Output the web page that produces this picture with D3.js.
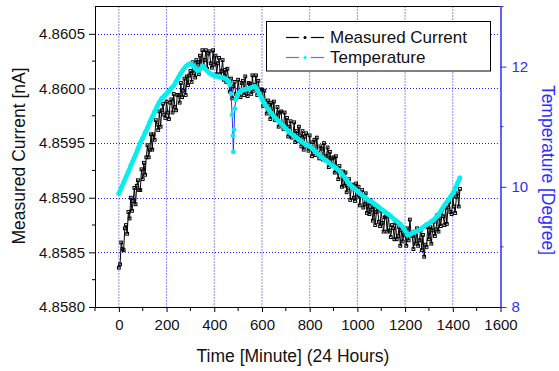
<!DOCTYPE html>
<html>
<head>
<meta charset="utf-8">
<script src="https://cdn.jsdelivr.net/npm/d3@7"></script>
<style>
  html, body { margin: 0; padding: 0; background: #fff; }
  svg { display: block; font-family: "Liberation Sans", Arial, sans-serif; }
</style>
</head>
<body>
<svg id="chart" width="559" height="371"></svg>
<script>
// ---------------- data ----------------
const currentTime = [0,5,10,15,20,25,30,35,40,45,50,55,60,65,70,75,80,85,90,95,
  100,105,110,115,120,125,130,135,140,145,150,155,160,165,170,175,180,185,190,195,
  200,205,210,215,220,225,230,235,240,245,250,255,260,265,270,275,280,285,290,295,
  300,305,310,315,320,325,330,335,340,345,350,355,360,365,370,375,380,385,390,395,
  400,405,410,415,420,425,430,435,440,445,450,455,460,465,470,475,480,485,490,495,
  500,505,510,515,520,525,530,535,540,545,550,555,560,565,570,575,580,585,590,595,
  600,605,610,615,620,625,630,635,640,645,650,655,660,665,670,675,680,685,690,695,
  700,705,710,715,720,725,730,735,740,745,750,755,760,765,770,775,780,785,790,795,
  800,805,810,815,820,825,830,835,840,845,850,855,860,865,870,875,880,885,890,895,
  900,905,910,915,920,925,930,935,940,945,950,955,960,965,970,975,980,985,990,995,
  1000,1005,1010,1015,1020,1025,1030,1035,1040,1045,1050,1055,1060,1065,1070,1075,1080,1085,1090,1095,
  1100,1105,1110,1115,1120,1125,1130,1135,1140,1145,1150,1155,1160,1165,1170,1175,1180,1185,1190,1195,
  1200,1205,1210,1215,1220,1225,1230,1235,1240,1245,1250,1255,1260,1265,1270,1275,1280,1285,1290,1295,
  1300,1305,1310,1315,1320,1325,1330,1335,1340,1345,1350,1355,1360,1365,1370,1375,1380,1385,1390,1395,
  1400,1405,1410,1415,1420,1425,1430];
const currentValues = [
  4.85836,4.85839,4.85859,4.85853,4.85852,4.85872,4.85875,4.85867,4.85887,4.85881,
  4.85900,4.85888,4.85897,4.85909,4.85894,4.85911,4.85916,4.85907,4.85907,4.85926,
  4.85917,4.85932,4.85921,4.85937,4.85948,4.85937,4.85944,4.85958,4.85944,4.85958,
  4.85953,4.85971,4.85967,4.85962,4.85979,4.85965,4.85980,4.85986,4.85976,4.85973,
  4.85988,4.85978,4.85972,4.85987,4.85990,4.85978,4.85995,4.85983,4.85980,4.85994,
  4.85994,4.85987,4.86005,4.85992,4.85998,4.86009,4.85994,4.86011,4.86003,4.86012,
  4.86016,4.86006,4.86024,4.86014,4.86010,4.86026,4.86024,4.86013,4.86030,4.86020,
  4.86035,4.86020,4.86026,4.86035,4.86018,4.86032,4.86034,4.86023,4.86019,4.86035,
  4.86022,4.86030,4.86013,4.86023,4.86028,4.86013,4.86016,4.86026,4.86008,4.86017,
  4.86006,4.86018,4.86008,4.85997,4.86009,4.85991,4.86002,4.86006,4.85995,4.85992,
  4.86008,4.85998,4.85992,4.86005,4.86007,4.85994,4.86011,4.85998,4.85993,4.86005,
  4.86004,4.85995,4.86012,4.85998,4.86003,4.86012,4.85994,4.86007,4.85995,4.85999,
  4.85999,4.85984,4.85998,4.85985,4.85977,4.85989,4.85985,4.85972,4.85987,4.85975,
  4.85988,4.85971,4.85975,4.85983,4.85965,4.85978,4.85979,4.85967,4.85963,4.85978,
  4.85965,4.85973,4.85956,4.85965,4.85970,4.85955,4.85958,4.85969,4.85951,4.85961,
  4.85952,4.85965,4.85957,4.85947,4.85961,4.85944,4.85956,4.85959,4.85947,4.85943,
  4.85957,4.85946,4.85938,4.85951,4.85953,4.85939,4.85955,4.85941,4.85936,4.85947,
  4.85945,4.85935,4.85950,4.85935,4.85938,4.85946,4.85928,4.85942,4.85931,4.85936,
  4.85937,4.85923,4.85938,4.85925,4.85917,4.85929,4.85924,4.85910,4.85924,4.85911,
  4.85923,4.85905,4.85909,4.85917,4.85898,4.85911,4.85912,4.85900,4.85897,4.85913,
  4.85901,4.85910,4.85893,4.85902,4.85907,4.85891,4.85894,4.85904,4.85886,4.85895,
  4.85885,4.85898,4.85889,4.85879,4.85892,4.85875,4.85887,4.85890,4.85878,4.85874,
  4.85888,4.85877,4.85869,4.85882,4.85883,4.85869,4.85884,4.85870,4.85864,4.85875,
  4.85872,4.85862,4.85877,4.85862,4.85865,4.85873,4.85856,4.85870,4.85860,4.85866,
  4.85868,4.85856,4.85872,4.85861,4.85880,4.85868,4.85865,4.85853,4.85869,4.85858,
  4.85872,4.85856,4.85861,4.85870,4.85852,4.85866,4.85846,4.85857,4.85855,4.85873,
  4.85862,4.85873,4.85858,4.85870,4.85878,4.85865,4.85871,4.85884,4.85869,4.85881,
  4.85874,4.85889,4.85883,4.85875,4.85891,4.85876,4.85891,4.85896,4.85887,4.85885,
  4.85901,4.85892,4.85886,4.85901,4.85904,4.85892,4.85908];

const tempTime = [0,10,20,30,40,50,60,70,80,90,100,110,120,130,140,150,160,170,180,190,
  200,210,220,230,240,250,260,270,280,290,300,310,320,330,340,350,360,370,380,390,
  400,410,420,430,440,450,460,465,470,475,478,480,483,486,490,500,510,520,530,540,550,560,570,580,590,
  600,610,620,630,640,650,660,670,680,690,700,710,720,730,740,750,760,770,780,790,
  800,810,820,830,840,850,860,870,880,890,900,910,920,930,940,950,960,970,980,990,
  1000,1010,1020,1030,1040,1050,1060,1070,1080,1090,1100,1110,1120,1130,1140,1150,1160,1170,1180,1190,
  1200,1210,1220,1230,1240,1250,1260,1270,1280,1290,1300,1310,1320,1330,1340,1350,1360,1370,1380,1390,
  1400,1410,1420,1430];
const tempValues = [9.89,9.98,10.07,10.16,10.25,10.35,10.44,10.53,10.63,10.73,
  10.81,10.90,10.98,11.08,11.16,11.25,11.33,11.41,11.47,11.51,
  11.55,11.59,11.64,11.68,11.75,11.82,11.89,11.95,12.00,12.03,
  12.05,12.02,11.97,11.93,11.95,12.01,11.97,11.93,11.89,11.87,
  11.85,11.84,11.83,11.82,11.81,11.79,11.76,11.70,11.55,11.20,10.85,10.58,10.95,11.30,11.45,
  11.55,11.59,11.61,11.62,11.63,11.64,11.66,11.67,11.62,11.54,
  11.46,11.39,11.33,11.27,11.22,11.17,11.13,11.09,11.05,11.01,
  10.97,10.93,10.89,10.86,10.83,10.80,10.77,10.74,10.71,10.69,
  10.67,10.64,10.60,10.57,10.53,10.49,10.46,10.43,10.40,10.37,
  10.34,10.31,10.28,10.24,10.19,10.14,10.08,10.03,9.99,9.96,
  9.93,9.89,9.86,9.83,9.80,9.77,9.75,9.72,9.69,9.66,
  9.63,9.60,9.57,9.54,9.51,9.47,9.44,9.41,9.38,9.33,
  9.27,9.20,9.21,9.23,9.25,9.26,9.28,9.31,9.34,9.37,
  9.39,9.42,9.45,9.49,9.54,9.60,9.66,9.72,9.77,9.83,
  9.89,9.97,10.06,10.15];

const xMajorTicks = [0,200,400,600,800,1000,1200,1400,1600];
const xMinorTicks = [-100,100,300,500,700,900,1100,1300,1500];
const xGridTicks = [0,200,400,600,800,1000,1200,1400];
const yLeftMajorTicks = [4.8580,4.8585,4.8590,4.8595,4.8600,4.8605];
const yLeftMinorTicks = [4.85825,4.85875,4.85925,4.85975,4.86025];
const yLeftGridTicks = [4.8585,4.8590,4.8595,4.8600,4.8605];
const yRightMajorTicks = [8,10,12];
const yRightMinorTicks = [9,11,13];
const legendLabels = ["Measured Current","Temperature"];
const xTitle = "Time [Minute] (24 Hours)";
const yLeftTitle = "Measured Current [nA]";
const yRightTitle = "Temperature [Degree]";

// ---------------- layout ----------------
const L = 95, R = 500.5, T = 6.5, B = 307;
const BLUE = "#2d2dff";
const CYAN = "#08eeee";
const svg = d3.select("#chart");

const x = d3.scaleLinear().domain([-100, 1600]).range([L, R]);
const yL = d3.scaleLinear().domain([4.8580, 4.86075]).range([B, T]);
const yR = d3.scaleLinear().domain([8, 13]).range([B, T]);

// grid
const grid = svg.append("g");
grid.selectAll("line.vg").data(xGridTicks).join("line")
  .attr("x1", d => x(d)).attr("x2", d => x(d)).attr("y1", T).attr("y2", B)
  .attr("stroke", "#1a1aff").attr("stroke-width", 1).attr("stroke-dasharray", "1,2");
grid.selectAll("line.hg").data(yLeftGridTicks).join("line")
  .attr("y1", d => Math.round(yL(d)) + 0.5).attr("y2", d => Math.round(yL(d)) + 0.5)
  .attr("x1", L).attr("x2", R)
  .attr("stroke", "#1a1aff").attr("stroke-width", 1).attr("stroke-dasharray", "1,2");

// current series
const curData = currentTime.map((t, i) => [t, currentValues[i]]);
svg.append("path").datum(curData)
  .attr("fill", "none").attr("stroke", "#000").attr("stroke-width", 1)
  .attr("d", d3.line().x(d => x(d[0])).y(d => yL(d[1])));
svg.append("g").selectAll("rect").data(curData).join("rect")
  .attr("x", d => x(d[0]) - 1.4).attr("y", d => yL(d[1]) - 1.4)
  .attr("width", 2.8).attr("height", 2.8)
  .attr("fill", "none").attr("stroke", "#000").attr("stroke-width", 1);

// temperature series
const tmpData = tempTime.map((t, i) => [t, tempValues[i]]);
svg.append("path").datum(tmpData)
  .attr("fill", "none").attr("stroke", "#3030ff").attr("stroke-width", 1)
  .attr("d", d3.line().x(d => x(d[0])).y(d => yR(d[1])));
svg.append("path").datum(tmpData)
  .attr("fill", "none").attr("stroke", CYAN).attr("stroke-width", 4.6)
  .attr("stroke-linejoin", "round").attr("stroke-linecap", "round")
  .attr("d", d3.line().defined(d => d[0] < 468 || d[0] > 488).x(d => x(d[0])).y(d => yR(d[1])));
svg.append("g").selectAll("circle").data(tmpData).join("circle")
  .attr("cx", d => x(d[0])).attr("cy", d => yR(d[1])).attr("r", 2.4)
  .attr("fill", CYAN);

// axes
const fontTick = "15px";
const gx = svg.append("g").attr("transform", `translate(0,${B})`);
gx.call(d3.axisBottom(x).tickValues(xMajorTicks).tickSize(5).tickSizeOuter(0).tickPadding(7).tickFormat(d3.format("d")));
gx.append("g").selectAll("line").data(xMinorTicks).join("line")
  .attr("x1", d => x(d)).attr("x2", d => x(d)).attr("y1", 0).attr("y2", 4).attr("stroke", "#000");
gx.selectAll("text").attr("font-size", fontTick).attr("fill", "#111").attr("font-family", "Liberation Sans, Arial, sans-serif");
gx.select(".domain").attr("stroke", "#000");

const gy = svg.append("g").attr("transform", `translate(${L},0)`);
gy.call(d3.axisLeft(yL).tickValues(yLeftMajorTicks).tickSize(6).tickSizeOuter(0).tickPadding(4).tickFormat(d3.format(".4f")));
gy.append("g").selectAll("line").data(yLeftMinorTicks).join("line")
  .attr("y1", d => yL(d)).attr("y2", d => yL(d)).attr("x1", 0).attr("x2", -3).attr("stroke", "#000");
gy.selectAll("text").attr("font-size", fontTick).attr("fill", "#111").attr("font-family", "Liberation Sans, Arial, sans-serif");

svg.append("line").attr("x1", L).attr("x2", R).attr("y1", T).attr("y2", T).attr("stroke", "#000");

const gr = svg.append("g").attr("transform", `translate(${R},0)`);
gr.call(d3.axisRight(yR).tickValues(yRightMajorTicks).tickSize(6).tickSizeOuter(0).tickPadding(5).tickFormat(d3.format("d")));
gr.append("g").selectAll("line").data(yRightMinorTicks).join("line")
  .attr("y1", d => yR(d)).attr("y2", d => yR(d)).attr("x1", 0).attr("x2", 3).attr("stroke", BLUE);
gr.selectAll("line").attr("stroke", BLUE);
gr.select(".domain").attr("stroke", BLUE).attr("stroke-width", 1.5);
gr.selectAll("text").attr("font-size", fontTick).attr("fill", BLUE).attr("font-family", "Liberation Sans, Arial, sans-serif");

// titles
svg.append("text").attr("x", 293).attr("y", 362).attr("text-anchor", "middle")
  .attr("font-size", "17.5px").attr("fill", "#111").text(xTitle);
svg.append("text").attr("transform", "translate(25,156) rotate(-90)").attr("text-anchor", "middle")
  .attr("font-size", "17.5px").attr("fill", "#111").text(yLeftTitle);
svg.append("text").attr("transform", "translate(542,170) rotate(90)").attr("text-anchor", "middle")
  .attr("font-size", "17.5px").attr("fill", BLUE).text(yRightTitle);

// legend
const lg = svg.append("g");
lg.append("rect").attr("x", 266.5).attr("y", 21.5).attr("width", 224).attr("height", 49.5)
  .attr("fill", "#fff").attr("stroke", "#000").attr("stroke-width", 1);
const legRows = [
  {label: legendLabels[0], line: "#000", dot: "#000", y: 37.5},
  {label: legendLabels[1], line: "#6a6aff", dot: CYAN, y: 57.5}
];
legRows.forEach(r => {
  lg.append("line").attr("x1", 286).attr("x2", 299).attr("y1", r.y).attr("y2", r.y).attr("stroke", r.line).attr("stroke-width", 1.2);
  lg.append("line").attr("x1", 311).attr("x2", 324).attr("y1", r.y).attr("y2", r.y).attr("stroke", r.line).attr("stroke-width", 1.2);
  lg.append("circle").attr("cx", 305).attr("cy", r.y).attr("r", 1.5).attr("fill", r.dot);
  lg.append("text").attr("x", 330).attr("y", r.y + 5.5).attr("font-size", "17px").attr("fill", "#111").text(r.label);
});
</script>
</body>
</html>
